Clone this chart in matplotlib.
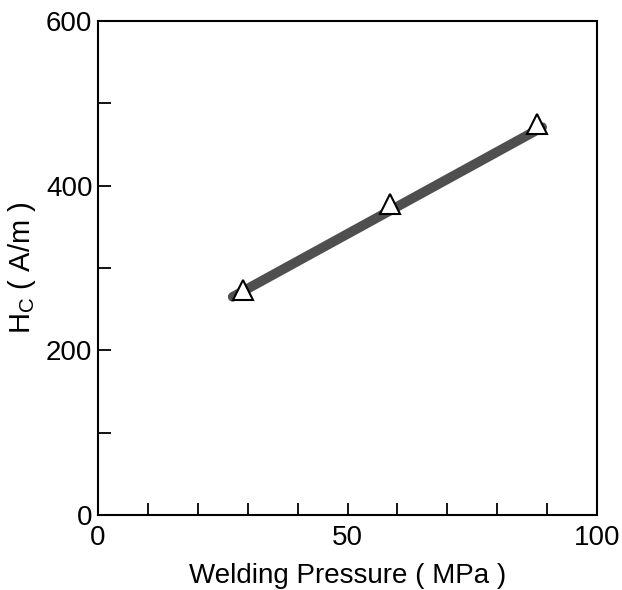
import matplotlib.pyplot as plt
from matplotlib.ticker import MultipleLocator

plt.rcParams['font.family'] = ['Liberation Sans', 'DejaVu Sans']
plt.rcParams['mathtext.fontset'] = 'custom'
plt.rcParams['mathtext.rm'] = 'Liberation Sans'

# fitted line (thick gray band)
line_x = [27, 89]
line_y = [265, 471]

# measured points
pressure = [29, 58.5, 88]
hc = [273, 378, 475]

fig = plt.figure(figsize=(6.22, 5.90), dpi=100)
ax = fig.add_axes([0.1576, 0.1271, 0.8022, 0.8373])

ax.plot(line_x, line_y, '-', color='#4f4f4f', lw=7, solid_capstyle='round', zorder=2)
ax.plot(pressure, hc, '^', ms=14, mfc='white', mec='black', mew=1.5, zorder=3)

ax.set_xlim(0, 100)
ax.set_ylim(0, 600)
ax.xaxis.set_major_locator(MultipleLocator(50))
ax.xaxis.set_minor_locator(MultipleLocator(10))
ax.yaxis.set_major_locator(MultipleLocator(200))
ax.yaxis.set_minor_locator(MultipleLocator(100))
ax.tick_params(which='both', direction='in', length=9, width=1.3, labelsize=20,
               top=False, right=False)
ax.tick_params(axis='x', pad=7)
ax.tick_params(axis='y', pad=4)
for s in ax.spines.values():
    s.set_linewidth(1.5)

ax.set_xlabel('Welding Pressure ( MPa )', fontsize=20, labelpad=9)
ax.set_ylabel(r'H$_\mathregular{C}$ ( A/m )', fontsize=21, labelpad=6)

fig.savefig('out.png', dpi=100)
